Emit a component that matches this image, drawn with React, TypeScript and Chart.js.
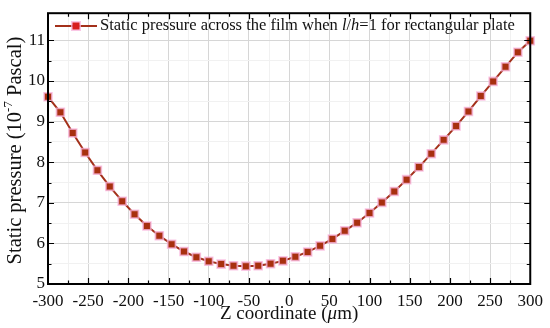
import React, { useEffect, useRef } from "react";
import { Chart, registerables } from "chart.js";

Chart.register(...registerables);

const zCoords = [
  -300, -284.6, -269.2, -253.8, -238.5, -223.1, -207.7, -192.3, -176.9, -161.5,
  -146.2, -130.8, -115.4, -100, -84.6, -69.2, -53.8, -38.5, -23.1, -7.7,
  7.7, 23.1, 38.5, 53.8, 69.2, 84.6, 100, 115.4, 130.8, 146.2,
  161.5, 176.9, 192.3, 207.7, 223.1, 238.5, 253.8, 269.2, 284.6, 300,
];
const pressure = [
  9.61, 9.23, 8.72, 8.24, 7.8, 7.4, 7.04, 6.72, 6.43, 6.19,
  5.98, 5.8, 5.66, 5.56, 5.49, 5.45, 5.44, 5.45, 5.5, 5.57,
  5.67, 5.79, 5.94, 6.11, 6.31, 6.51, 6.75, 7.01, 7.28, 7.57,
  7.88, 8.21, 8.55, 8.89, 9.25, 9.63, 9.99, 10.35, 10.71, 10.99,
];
const xMin = -300;
const xMax = 300;
const yMin = 5;
const yMax = 11.67;

const FONT = "'Liberation Serif', 'Times New Roman', serif";
const LINE_COLOR = "#a3301a";
const MARKER_FILL = "#a8300f";
const MARKER_HALO = "rgba(248,180,220,0.75)";

type Seg = { t: string; italic?: boolean; sup?: boolean };

function drawSegs(ctx: CanvasRenderingContext2D, segs: Seg[], x: number, y: number, size: number, align: "left" | "center") {
  const fontOf = (s: Seg) => `${s.italic ? "italic " : ""}${s.sup ? Math.round(size * 0.65) : size}px ${FONT}`;
  let total = 0;
  for (const s of segs) {
    ctx.font = fontOf(s);
    total += ctx.measureText(s.t).width;
  }
  let cx = align === "center" ? x - total / 2 : x;
  ctx.textBaseline = "middle";
  ctx.textAlign = "left";
  for (const s of segs) {
    ctx.font = fontOf(s);
    ctx.fillText(s.t, cx, s.sup ? y - size * 0.35 : y);
    cx += ctx.measureText(s.t).width;
  }
}

const decorPlugin = {
  id: "decor",
  afterDraw(chart: any) {
    const { ctx, chartArea } = chart;
    const { left, right, top, bottom } = chartArea;
    const xs = chart.scales.x;
    const ys = chart.scales.y;
    ctx.save();
    ctx.strokeStyle = "#000";
    ctx.lineWidth = 1.2;
    for (const t of xs.ticks) {
      const v = t.value;
      if (v <= xMin || v >= xMax) continue;
      const len = Math.abs(v % 50) < 1e-6 ? 6 : 3.5;
      const px = Math.round(xs.getPixelForValue(v)) + 0.5;
      ctx.beginPath();
      ctx.moveTo(px, bottom);
      ctx.lineTo(px, bottom - len);
      ctx.moveTo(px, top);
      ctx.lineTo(px, top + len);
      ctx.stroke();
    }
    for (const t of ys.ticks) {
      const v = t.value;
      if (v <= yMin || v >= yMax - 0.01) continue;
      if (Math.abs(v * 2 - Math.round(v * 2)) > 1e-6) continue;
      const len = Math.abs(v - Math.round(v)) < 1e-6 ? 6 : 3.5;
      const py = Math.round(ys.getPixelForValue(v)) + 0.5;
      ctx.beginPath();
      ctx.moveTo(left, py);
      ctx.lineTo(left + len, py);
      ctx.moveTo(right, py);
      ctx.lineTo(right - len, py);
      ctx.stroke();
    }
    ctx.lineWidth = 2;
    ctx.strokeRect(left, top, right - left, bottom - top);

    // legend
    const ly = 26;
    ctx.strokeStyle = LINE_COLOR;
    ctx.lineWidth = 2;
    ctx.beginPath();
    ctx.moveTo(55, ly);
    ctx.lineTo(97, ly);
    ctx.stroke();
    ctx.fillStyle = MARKER_HALO;
    ctx.fillRect(76 - 5, ly - 5, 10, 10);
    ctx.fillStyle = "#d81e1e";
    ctx.fillRect(76 - 3.5, ly - 3.5, 7, 7);
    ctx.fillStyle = "#111";
    drawSegs(
      ctx,
      [
        { t: "Static pressure across the film when " },
        { t: "l", italic: true },
        { t: "/" },
        { t: "h", italic: true },
        { t: "=1 for rectangular plate" },
      ],
      100,
      ly,
      16.5,
      "left"
    );

    drawSegs(
      ctx,
      [{ t: "Z coordinate (" }, { t: "\u03bc", italic: true }, { t: "m)" }],
      (left + right) / 2,
      314,
      19,
      "center"
    );
    ctx.translate(16, (top + bottom) / 2 + 2);
    ctx.rotate(-Math.PI / 2);
    drawSegs(
      ctx,
      [{ t: "Static pressure (10" }, { t: "-7", sup: true }, { t: " Pascal)" }],
      0,
      0,
      20.5,
      "center"
    );
    ctx.restore();
  },
};

export default function App() {
  const ref = useRef<HTMLCanvasElement | null>(null);
  useEffect(() => {
    document.body.style.margin = "0";
    const canvas = ref.current!;
    const data = zCoords.map((x, i) => ({ x, y: pressure[i] }));
    const chart = new Chart(canvas, {
      type: "scatter",
      data: {
        datasets: [
          {
            label: "Static pressure",
            data,
            showLine: true,
            borderColor: LINE_COLOR,
            borderWidth: 2,
            pointStyle: "rect",
            pointRadius: 5.5,
            pointBackgroundColor: MARKER_FILL,
            pointBorderColor: MARKER_HALO,
            pointBorderWidth: 1.8,
            clip: false as any,
          },
        ],
      },
      options: {
        animation: false,
        responsive: false,
        devicePixelRatio: 1,
        layout: { padding: { left: 0, right: 18, top: 7, bottom: 0 } },
        plugins: { legend: { display: false }, tooltip: { enabled: false } },
        scales: {
          x: {
            type: "linear",
            min: xMin,
            max: xMax,
            afterFit: (s: any) => {
              s.height = 44;
            },
            border: { display: false },
            grid: {
              drawTicks: false,
              color: (c: any) =>
                Math.abs(c.tick.value % 50) < 1e-6 ? "#d6d6d6" : "#f1f1f1",
              lineWidth: 1,
            },
            ticks: {
              stepSize: 25,
              autoSkip: false,
              maxRotation: 0,
              padding: 7,
              color: "#111",
              font: { family: FONT, size: 17 },
              callback: (v: any) => (Math.abs(v % 50) < 1e-6 ? String(v) : ""),
            },
          },
          y: {
            type: "linear",
            min: yMin,
            max: yMax,
            afterFit: (s: any) => {
              s.width = 48;
            },
            border: { display: false },
            grid: {
              drawTicks: false,
              color: (c: any) =>
                Math.abs(c.tick.value - Math.round(c.tick.value)) < 1e-6 ? "#d6d6d6" : "#f1f1f1",
              lineWidth: 1,
            },
            ticks: {
              stepSize: 0.5,
              autoSkip: false,
              padding: 3,
              color: "#111",
              font: { family: FONT, size: 17 },
              callback: (v: any) =>
                Math.abs(v - Math.round(v)) < 1e-6 ? String(Math.round(v)) : "",
            },
          },
        },
      },
      plugins: [decorPlugin],
    });
    return () => chart.destroy();
  }, []);
  return (
    <div style={{ width: 550, height: 328, background: "#fff" }}>
      <canvas ref={ref} width={550} height={328} style={{ display: "block" }} />
    </div>
  );
}
